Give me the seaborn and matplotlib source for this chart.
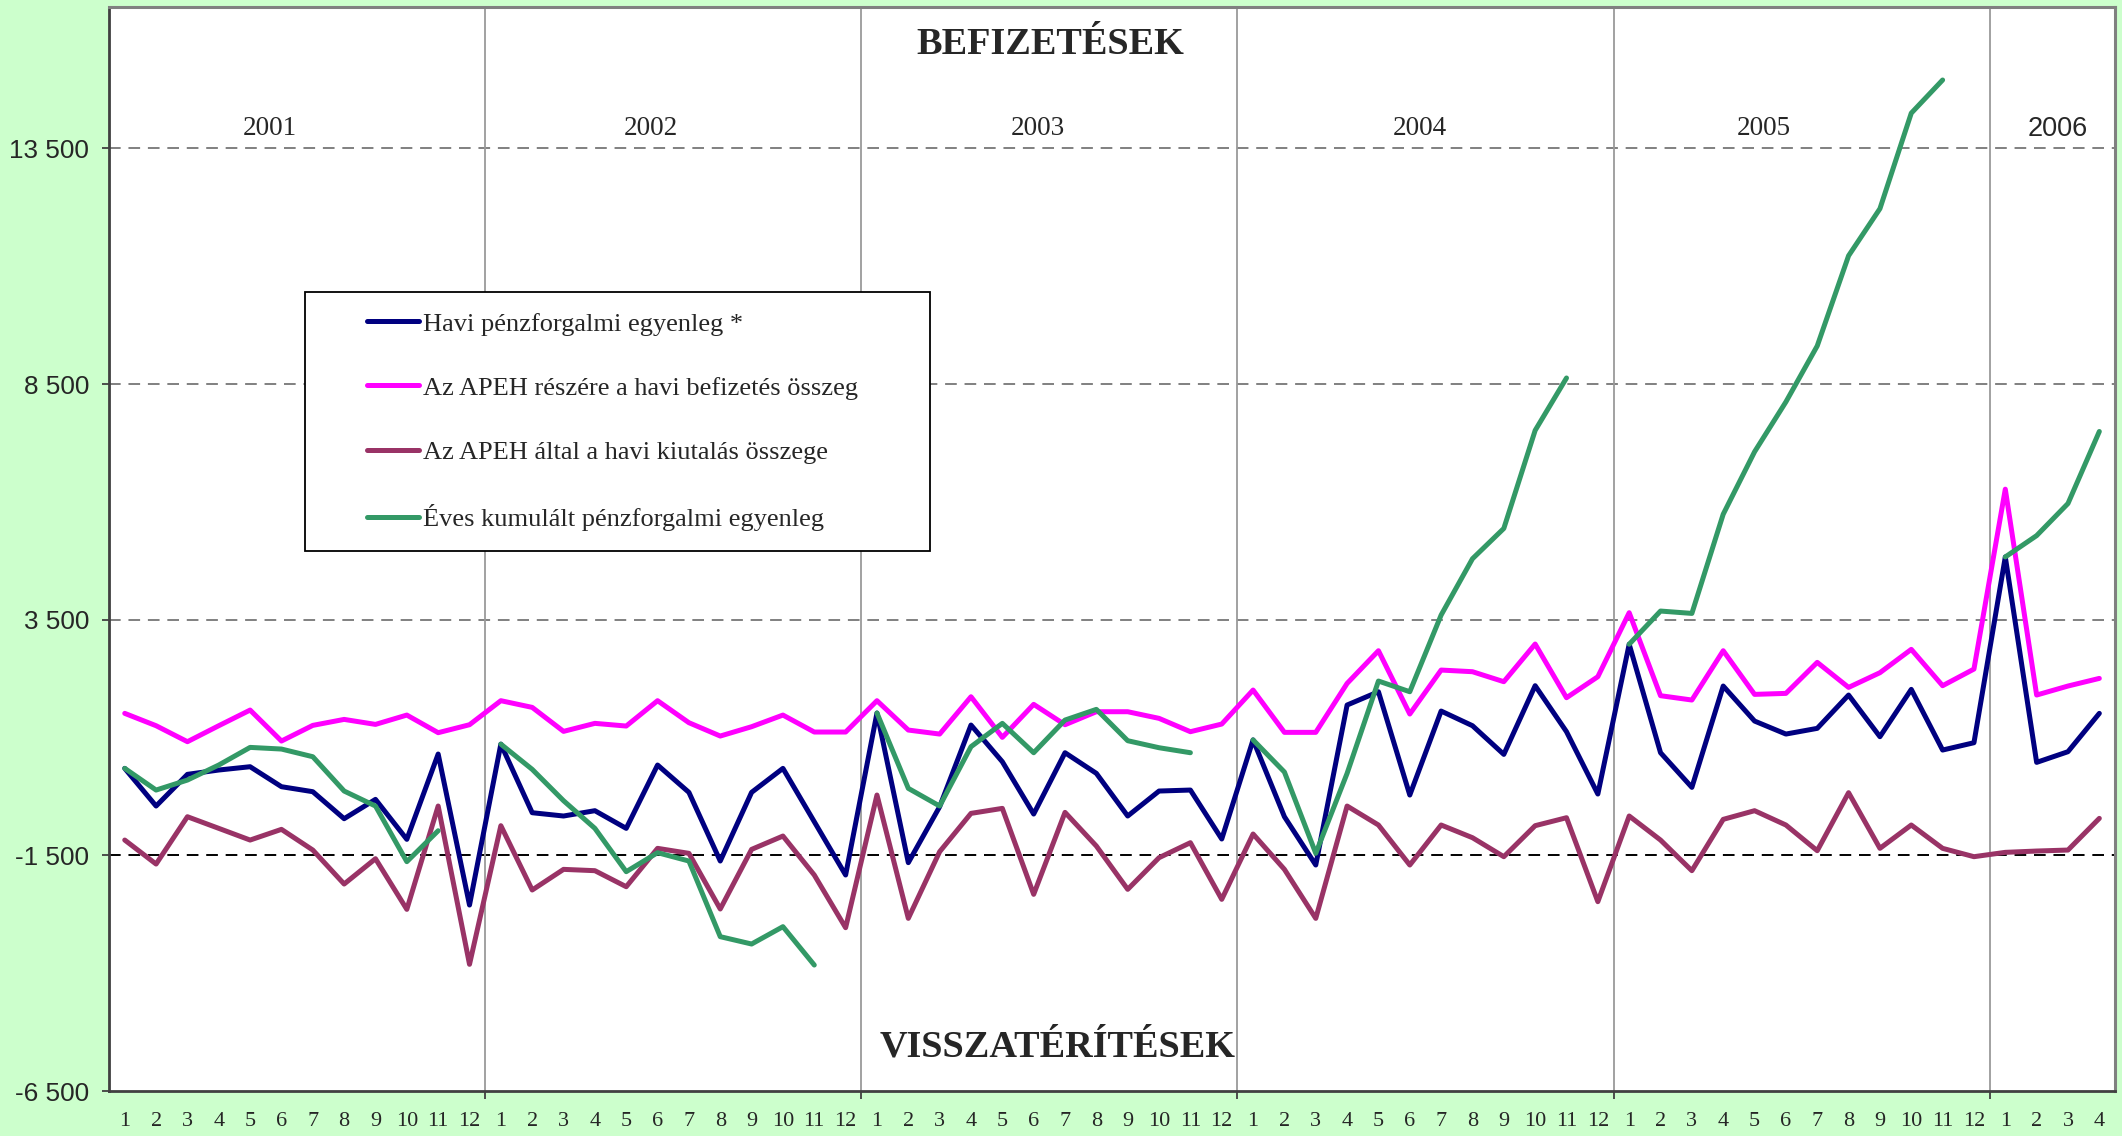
import matplotlib
matplotlib.use('Agg')
import matplotlib.pyplot as plt
from matplotlib.lines import Line2D
from matplotlib.patches import Rectangle
import numpy as np
import pandas as pd
import seaborn as sns

# Data (million HUF, monthly, 2001/1 .. 2006/4)
years = [2001, 2002, 2003, 2004, 2005, 2006]
months_per_year = [12, 12, 12, 12, 12, 4]

havi_egyenleg = [
    346, -453, 219, 311, 381, -43, -149, -722, -312, -1160, 650, -2554,
    860, -595, -665, -552, -927, 417, -163, -1620, -163, 346, -786, -1917,
    1520, -1655, -467, 1265, 487, -623, 678, 240, -665, -135, -114, -1153,
    950, -680, -1705, 1690, 1972, -220, 1562, 1251, 643, 2100, 1124, -199,
    2980, 678, -57, 2093, 1350, 1074, 1195, 1902, 1018, 2022, 735, 890,
    4832, 473, 700, 1513]

befizetes = [
    1513, 1251, 912, 1251, 1583, 926, 1258, 1385, 1279, 1477, 1103, 1272,
    1782, 1640, 1131, 1301, 1244, 1782, 1315, 1032, 1230, 1477, 1117, 1117,
    1782, 1159, 1074, 1866, 1004, 1704, 1272, 1548, 1548, 1407, 1124, 1286,
    2008, 1110, 1110, 2149, 2842, 1499, 2432, 2397, 2185, 2984, 1845, 2291,
    3649, 1888, 1796, 2842, 1916, 1937, 2595, 2064, 2376, 2871, 2100, 2453,
    6270, 1902, 2093, 2255]

kiutalas = [
    -1175, -1684, -680, -927, -1175, -948, -1387, -2108, -1571, -2646, -453, -3812,
    -870, -2235, -1797, -1825, -2165, -1351, -1457, -2638, -1373, -1090, -1917, -3035,
    -220, -2837, -1422, -609, -503, -2327, -588, -1302, -2221, -1549, -1231, -2433,
    -1047, -1797, -2837, -453, -856, -1705, -856, -1125, -1528, -870, -701, -2483,
    -665, -1175, -1825, -736, -552, -856, -1401, -170, -1351, -856, -1351, -1528,
    -1436, -1408, -1387, -715]

nan = np.nan
kumulalt = [
    346, -114, 98, 417, 791, 756, 593, -135, -453, -1634, -977, nan,
    860, 325, -340, -927, -1846, -1443, -1620, -3225, -3381, -3013, -3827, nan,
    1520, -78, -453, 806, 1301, 678, 1371, 1598, 933, 784, 678, nan,
    950, 268, -1457, 240, 2199, 1972, 3599, 4794, 5437, 7517, 8629, nan,
    2980, 3684, 3634, 5739, 7063, 8122, 9310, 11223, 12222, 14249, 14952, nan,
    4832, 5285, 5966, 7494]

series_names = ['Havi pénzforgalmi egyenleg *',
                'Az APEH részére a havi befizetés összeg',
                'Az APEH által a havi kiutalás összege',
                'Éves kumulált pénzforgalmi egyenleg']
series_colors = ['#000080', '#FF00FF', '#993366', '#339966']
ytick_values = [-6500, -1500, 3500, 8500, 13500]

# long table for seaborn
year_of = [y for y, n in zip(years, months_per_year) for _ in range(n)]
month_labels = [m for n in months_per_year for m in range(1, n + 1)]
n_pts = len(month_labels)
frames = []
for name, vals in zip(series_names, [havi_egyenleg, befizetes, kiutalas, kumulalt]):
    d = pd.DataFrame({'x': np.arange(n_pts), 'value': vals, 'series': name})
    # the yearly cumulated series restarts each year -> separate segments
    d['segment'] = year_of if name.startswith('Éves') else 0
    frames.append(d)
df = pd.concat(frames).dropna()

sns.set_style('white')
plt.rcParams['font.family'] = ['Liberation Serif', 'DejaVu Sans']

fig = plt.figure(figsize=(21.22, 11.36), dpi=100, facecolor='#CCFFCC')
ax = fig.add_axes([0.0514, 0.0396, 0.9453, 0.9542])
ax.set_facecolor('white')

sns.lineplot(data=df, x='x', y='value', hue='series', units='segment',
             estimator=None, sort=False, hue_order=series_names,
             palette=dict(zip(series_names, series_colors)),
             linewidth=3.6, legend=False, ax=ax, zorder=3)

ax.set_xlim(-0.5, n_pts - 0.5)
ax.set_ylim(-6500, 16500)
ax.set_xlabel('')
ax.set_ylabel('')

# horizontal dashed gridlines
for v in ytick_values[1:]:
    ax.axhline(v, color='black' if v == -1500 else '#808080', lw=1.4,
               linestyle=(0, (6, 4)), zorder=1)

# year separators
bounds = np.cumsum(months_per_year)[:-1] - 0.5
for b in bounds:
    ax.axvline(b, color='#9a9a9a', lw=1.3, zorder=1)

# ticks
ax.set_yticks(ytick_values)
ax.set_yticklabels(['{:,}'.format(v).replace(',', ' ') for v in ytick_values],
                   family='Liberation Sans', fontsize=18.8)
ax.tick_params(axis='y', length=5, width=1.3, color='#404040', pad=9.5, left=True)
ax.set_xticks(np.arange(n_pts))
ax.set_xticklabels([str(m) for m in month_labels], fontsize=16)
ax.tick_params(axis='x', which='major', length=0, pad=15)
ax.set_xticks(bounds, minor=True)
ax.tick_params(axis='x', which='minor', length=6, width=1.3, color='#404040',
               bottom=True)

for s in ['left', 'bottom']:
    ax.spines[s].set_color('#404040')
    ax.spines[s].set_linewidth(2)
for s in ['top', 'right']:
    ax.spines[s].set_color('#808080')
    ax.spines[s].set_linewidth(2.2)

# year labels
year_label_pos = [4.64, 16.79, 29.14, 41.33, 52.28, 61.66]
for y, xp in zip(years, year_label_pos):
    ax.text(xp, 0.8875, str(y), transform=ax.get_xaxis_transform(),
            ha='center', va='center', fontsize=19.5,
            family='Liberation Sans' if y == 2006 else 'Liberation Serif')

ax.text(0.469, 0.9655, 'BEFIZETÉSEK', transform=ax.transAxes, ha='center',
        va='center', fontsize=27.5, fontweight='bold')
ax.text(0.473, 0.0405, 'VISSZATÉRÍTÉSEK', transform=ax.transAxes, ha='center',
        va='center', fontsize=27.5, fontweight='bold')

# legend box
ax.add_patch(Rectangle((0.0975, 0.4982), 0.3116, 0.2389, transform=ax.transAxes,
                       facecolor='white', edgecolor='black', lw=1.3, zorder=2))
handles = [Line2D([], [], color=c, lw=3.6) for c in series_colors]
leg = ax.legend(handles, series_names, loc='upper left',
                bbox_to_anchor=(0.1286, 0.7186), frameon=False, borderpad=0,
                borderaxespad=0, handlelength=1.97, handletextpad=0.15,
                labelspacing=1.54, fontsize=19)
leg.set_zorder(4)

plt.savefig('out.png', dpi=100, facecolor=fig.get_facecolor())
